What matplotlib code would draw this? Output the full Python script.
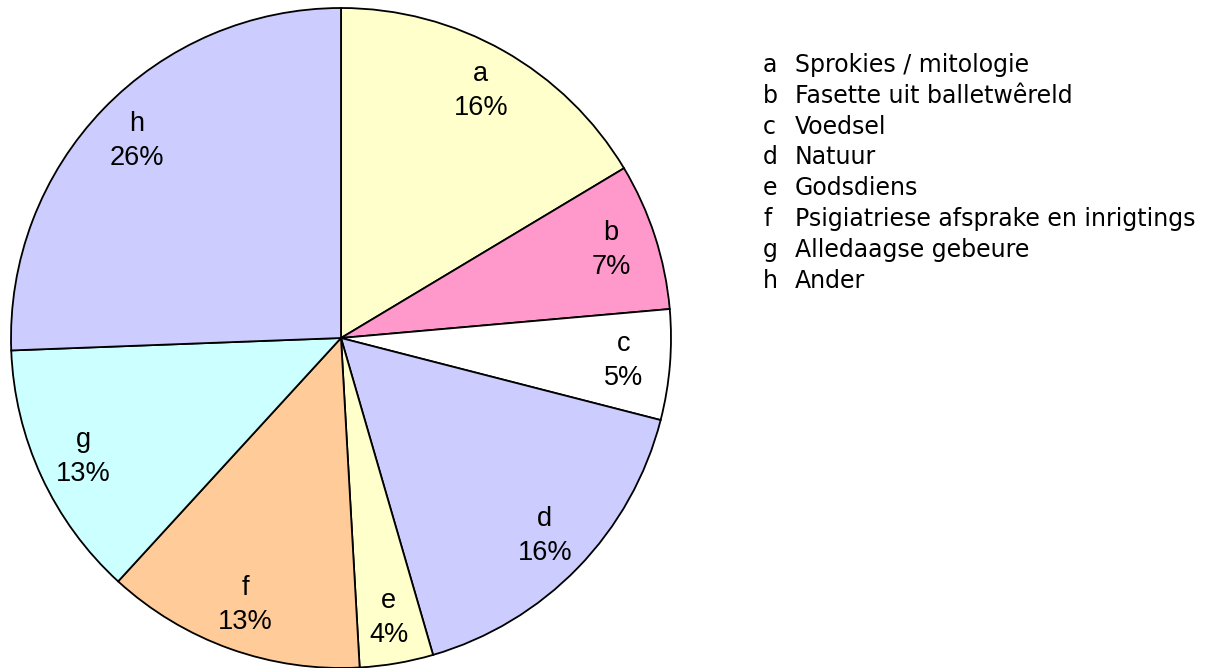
import matplotlib
matplotlib.use("Agg")
import matplotlib.pyplot as plt

letters = ["a", "b", "c", "d", "e", "f", "g", "h"]
values = [16.4, 7.2, 5.4, 16.5, 3.6, 12.7, 12.6, 25.6]
names = ["Sprokies / mitologie", "Fasette uit balletwêreld", "Voedsel", "Natuur",
         "Godsdiens", "Psigiatriese afsprake en inrigtings", "Alledaagse gebeure", "Ander"]
colors = ["#FFFFCC", "#FF99CC", "#FFFFFF", "#CCCCFF", "#FFFFCC", "#FFCC99", "#CCFFFF", "#CCCCFF"]

W, H = 1210, 668
fig = plt.figure(figsize=(W / 100, H / 100), dpi=100)
ax = fig.add_axes([11 / W, 0 / H, 660 / W, 660 / H])

total = sum(values)
labels = [f"{l}\n{round(v / total * 100):.0f}%" for l, v in zip(letters, values)]

wedges, texts = ax.pie(values, colors=colors, startangle=90, counterclock=False,
                       labels=labels, labeldistance=0.86,
                       wedgeprops=dict(edgecolor="black", linewidth=1.3),
                       textprops=dict(fontsize=19.5, family="Liberation Sans",
                                      ha="center", va="center", linespacing=1.4))
ax.set_xlim(-1.0, 1.0)
ax.set_ylim(-1.0, 1.0)
ax.set_aspect("auto")
ax.axis("off")

y0 = 1 - 65 / H
dy = 30.8 / H
for i, (l, n) in enumerate(zip(letters, names)):
    fig.text(763 / W, y0 - i * dy, l, fontsize=17, family="DejaVu Sans", ha="left", va="center")
    fig.text(795 / W, y0 - i * dy, n, fontsize=17, family="DejaVu Sans", ha="left", va="center")

fig.savefig("out.png", dpi=100)
